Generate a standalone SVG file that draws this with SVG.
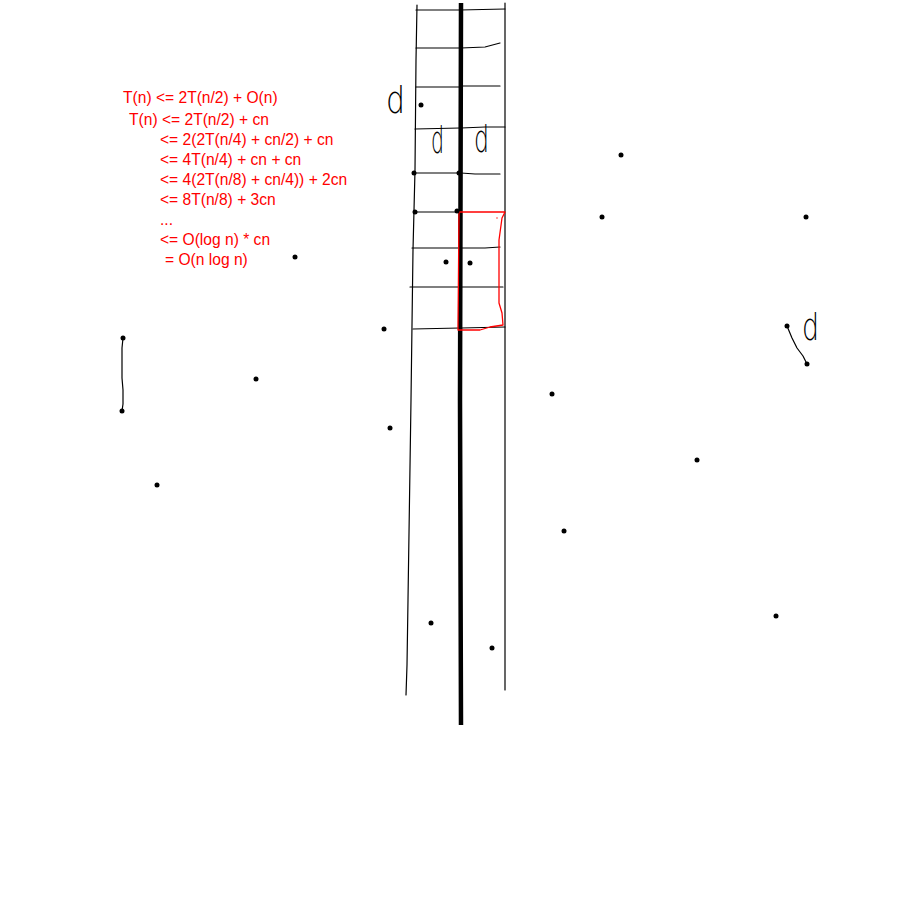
<svg xmlns="http://www.w3.org/2000/svg" width="900" height="900" viewBox="0 0 900 900">
<style>
.eq{font-family:"Liberation Sans",Arial,sans-serif;font-size:15.6px;fill:#ff0000}
.hd{font-family:"DejaVu Sans",sans-serif;font-weight:200;font-size:38px;fill:#000}
.thin{fill:none;stroke:#000;stroke-width:1.2;stroke-linecap:round;stroke-linejoin:round}
.dot{fill:#000}
</style>
<rect width="900" height="900" fill="#fff"/>
<g id="equations">
<text class="eq" x="123" y="103">T(n) &lt;= 2T(n/2) + O(n)</text>
<text class="eq" x="129" y="125">T(n) &lt;= 2T(n/2) + cn</text>
<text class="eq" x="160" y="145">&lt;= 2(2T(n/4) + cn/2) + cn</text>
<text class="eq" x="160" y="165">&lt;= 4T(n/4) + cn + cn</text>
<text class="eq" x="160" y="185">&lt;= 4(2T(n/8) + cn/4)) + 2cn</text>
<text class="eq" x="160" y="205">&lt;= 8T(n/8) + 3cn</text>
<text class="eq" x="160" y="225">...</text>
<text class="eq" x="160" y="245">&lt;= O(log n) * cn</text>
<text class="eq" x="165" y="265">= O(n log n)</text>
</g>
<g id="strip">
<path class="thin" d="M417,5 L416,60 L415,170 L413,250 L411,400 L408,600 L407,665 L406,695"/>
<path class="thin" d="M505,3 L505,690"/>
<path d="M461,3 L460,400 L461,725" fill="none" stroke="#000" stroke-width="4.5"/>
<path class="thin" d="M416,10 L460,10 M460,10 L505,9"/>
<path class="thin" d="M416,48 L460,48 M461,48 L485,47 L500,43"/>
<path class="thin" d="M416,87 L460,87 M461,86 L500,86"/>
<path class="thin" d="M415,129 L460,128 M461,128 L485,127 L505,127"/>
<path class="thin" d="M414,173 L460,173 M461,173 L475,174 L500,174"/>
<path class="thin" d="M415,212 L460,212"/>
<path class="thin" d="M412,248 L460,248 M461,248 L485,248 L500,247"/>
<path class="thin" d="M410,287 L460,287 M461,287 L503,287"/>
<path class="thin" d="M413,329 L460,328 M461,328 L505,327"/>
</g>
<g id="red-box">
<path d="M459,212 L505,212 L502,218 L499,240 L499,303 L502,313 L503,325 L490,327 L480,330 L458,330 Z" fill="none" stroke="#ff0000" stroke-width="1.3" stroke-linejoin="round"/>
<circle cx="497" cy="218" r="0.7" fill="#ff0000"/>
</g>
<g id="segments">
<path class="thin" d="M123,338 L122,348 L122,378 L123,390 L123,404 L122,411"/>
<path class="thin" d="M787,326 L792,338 L797,348 L803,356 L807,364"/>
</g>
<g id="labels">
<text class="hd" x="386" y="113" textLength="19" lengthAdjust="spacingAndGlyphs">d</text>
<text class="hd" x="431" y="153" textLength="13" lengthAdjust="spacingAndGlyphs">d</text>
<text class="hd" x="474" y="152" textLength="15" lengthAdjust="spacingAndGlyphs">d</text>
<text class="hd" x="802" y="340" textLength="17" lengthAdjust="spacingAndGlyphs">d</text>
</g>
<g id="points">
<circle class="dot" cx="421" cy="105" r="2.5"/>
<circle class="dot" cx="414" cy="173" r="2.5"/>
<circle class="dot" cx="459" cy="173" r="2.5"/>
<circle class="dot" cx="415" cy="212" r="2.5"/>
<circle class="dot" cx="457" cy="211" r="2.5"/>
<circle class="dot" cx="446" cy="262" r="2.5"/>
<circle class="dot" cx="470" cy="263" r="2.5"/>
<circle class="dot" cx="295" cy="257" r="2.5"/>
<circle class="dot" cx="384" cy="329" r="2.5"/>
<circle class="dot" cx="256" cy="379" r="2.5"/>
<circle class="dot" cx="390" cy="428" r="2.5"/>
<circle class="dot" cx="157" cy="485" r="2.5"/>
<circle class="dot" cx="123" cy="338" r="2.5"/>
<circle class="dot" cx="122" cy="411" r="2.5"/>
<circle class="dot" cx="621" cy="155" r="2.5"/>
<circle class="dot" cx="602" cy="217" r="2.5"/>
<circle class="dot" cx="806" cy="217" r="2.5"/>
<circle class="dot" cx="787" cy="326" r="2.5"/>
<circle class="dot" cx="807" cy="364" r="2.5"/>
<circle class="dot" cx="552" cy="394" r="2.5"/>
<circle class="dot" cx="697" cy="460" r="2.5"/>
<circle class="dot" cx="564" cy="531" r="2.5"/>
<circle class="dot" cx="776" cy="616" r="2.5"/>
<circle class="dot" cx="431" cy="623" r="2.5"/>
<circle class="dot" cx="492" cy="648" r="2.5"/>
</g>
</svg>
